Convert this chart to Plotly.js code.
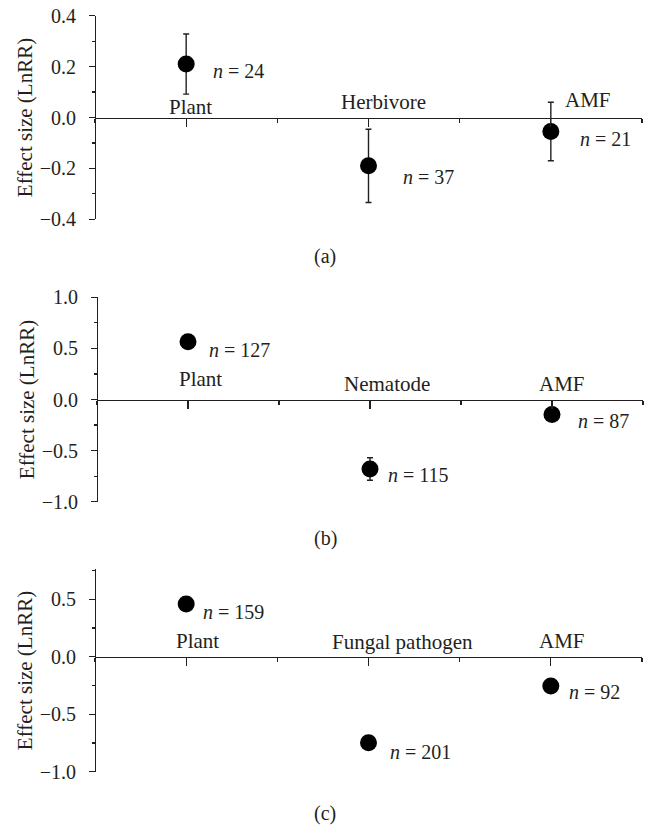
<!DOCTYPE html>
<html>
<head>
<meta charset="utf-8">
<script src="https://cdn.plot.ly/plotly-3.0.1.min.js"></script>
<style>html,body{margin:0;padding:0;background:#fff;}#chart{width:647px;height:826px;}</style>
</head>
<body>
<div id="chart"></div>
<script>
// ---- data ----
const catsA = ['Plant', 'Herbivore', 'AMF'];
const valsA = [0.21, -0.19, -0.055];
const errA  = [0.118, 0.144, 0.115];
const nA    = [24, 37, 21];

const catsB = ['Plant', 'Nematode', 'AMF'];
const valsB = [0.566, -0.68, -0.147];
const errB  = [0.03, 0.11, 0.04];
const nB    = [127, 115, 87];

const catsC = ['Plant', 'Fungal pathogen', 'AMF'];
const valsC = [0.458, -0.748, -0.255];
const errC  = [0.03, 0.03, 0.03];
const nC    = [159, 201, 92];

const panelLabels = ['(a)', '(b)', '(c)'];
const yTicksA = [-0.4, -0.2, 0, 0.2, 0.4];
const yTicksB = [-1, -0.5, 0, 0.5, 1];
const yTicksC = [-1, -0.5, 0, 0.5];

// ---- layout helpers ----
const W = 647, H = 826;
const FONT = '"Liberation Serif", "Times New Roman", serif';
const INK = '#231f20';
const FS = 21;
const px2y = p => 1 - p / H;
const px2x = p => p / W;

const panels = [
  {cats: catsA, vals: valsA, err: errA, n: nA, ticks: yTicksA, range: [-0.4, 0.4], minor: 0.1,
   top: 15.7, bot: 219.3, xl: 95, xr: 642, label: panelLabels[0], labelY: 256,
   catShift: [[4, 10.7], [15, 15.2], [37, 17.7]],
   nShift: [[25, -7], [32, -10.7], [27, -7]]},
  {cats: catsB, vals: valsB, err: errB, n: nB, ticks: yTicksB, range: [-1, 1], minor: 0.25,
   top: 297.3, bot: 501.7, xl: 97, xr: 643, label: panelLabels[1], labelY: 538,
   catShift: [[12, 20], [17, 15], [10, 15]],
   nShift: [[19, -8.7], [16, -5.7], [24, -6.7]]},
  {cats: catsC, vals: valsC, err: errC, n: nC, ticks: yTicksC, range: [-1, 0.76], minor: 0.25,
   top: 569.3, bot: 771.7, xl: 95, xr: 642, label: panelLabels[2], labelY: 813,
   catShift: [[11, 16], [34, 15], [11, 15.7]],
   nShift: [[15, -7.7], [19, -9], [16, -5.7]]}
];

const data = [];
const layout = {
  width: W, height: H,
  margin: {l: 0, r: 0, t: 0, b: 0},
  paper_bgcolor: '#fff', plot_bgcolor: 'rgba(0,0,0,0)',
  showlegend: false,
  font: {family: FONT, size: FS, color: INK},
  annotations: []
};

panels.forEach((p, i) => {
  const k = i === 0 ? '' : String(i + 1);
  const xa = 'x' + k, ya = 'y' + k;
  const xs = p.cats.map((c, j) => 2 * j + 1);
  data.push({
    type: 'scatter', mode: 'markers', xaxis: xa, yaxis: ya,
    x: xs, y: p.vals, text: p.cats,
    marker: {color: '#000', size: 17, symbol: 'circle'},
    error_y: {type: 'data', array: p.err, visible: true, color: INK, thickness: 1.4, width: 3},
    hoverinfo: 'text+y'
  });
  const d0 = px2y(p.bot), d1 = px2y(p.top);
  const zeroPos = d0 + (0 - p.range[0]) / (p.range[1] - p.range[0]) * (d1 - d0);
  layout['xaxis' + k] = {
    domain: [px2x(p.xl), px2x(p.xr)], range: [0, 6], anchor: 'free', position: zeroPos,
    showgrid: false, zeroline: false, showline: true, linecolor: INK, linewidth: 1.4,
    tickmode: 'array', tickvals: xs, ticks: 'outside', ticklen: 8, tickwidth: 1.2, tickcolor: INK,
    showticklabels: false,
    minor: {tick0: 0, dtick: 1, ticks: 'outside', ticklen: 4, tickwidth: 1.2, tickcolor: INK},
    fixedrange: true
  };
  layout['yaxis' + k] = {
    domain: [d0, d1], range: p.range, anchor: 'free', position: px2x(p.xl),
    showgrid: false, zeroline: false, showline: true, linecolor: INK, linewidth: 1.4,
    tickmode: 'array', tickvals: p.ticks, tickformat: '.1f',
    ticks: 'outside', ticklen: 6, tickwidth: 1.2, tickcolor: INK, ticklabelstandoff: 9,
    minor: {tick0: 0, dtick: p.minor, ticks: 'outside', ticklen: 3, tickwidth: 1.2, tickcolor: INK},
    tickfont: {family: FONT, size: 20, color: INK},
    title: {text: 'Effect size (LnRR)', font: {family: FONT, size: FS, color: INK}, standoff: 0},
    fixedrange: true
  };

  p.cats.forEach((c, j) => {
    layout.annotations.push({
      xref: xa, yref: ya, x: xs[j], y: 0, text: c, showarrow: false,
      xanchor: 'center', yanchor: 'middle', xshift: p.catShift[j][0], yshift: p.catShift[j][1],
      font: {family: FONT, size: FS, color: INK}
    });
    layout.annotations.push({
      xref: xa, yref: ya, x: xs[j], y: p.vals[j], text: '<i>n</i> = ' + p.n[j], showarrow: false,
      xanchor: 'left', yanchor: 'middle', xshift: p.nShift[j][0], yshift: p.nShift[j][1],
      font: {family: FONT, size: 20, color: INK}
    });
  });
  layout.annotations.push({
    xref: 'paper', yref: 'paper', x: px2x(325), y: px2y(p.labelY), text: p.label, showarrow: false,
    xanchor: 'center', yanchor: 'middle', font: {family: FONT, size: 20, color: INK}
  });
});

Plotly.newPlot('chart', data, layout, {displayModeBar: false, staticPlot: true});
</script>
</body>
</html>
